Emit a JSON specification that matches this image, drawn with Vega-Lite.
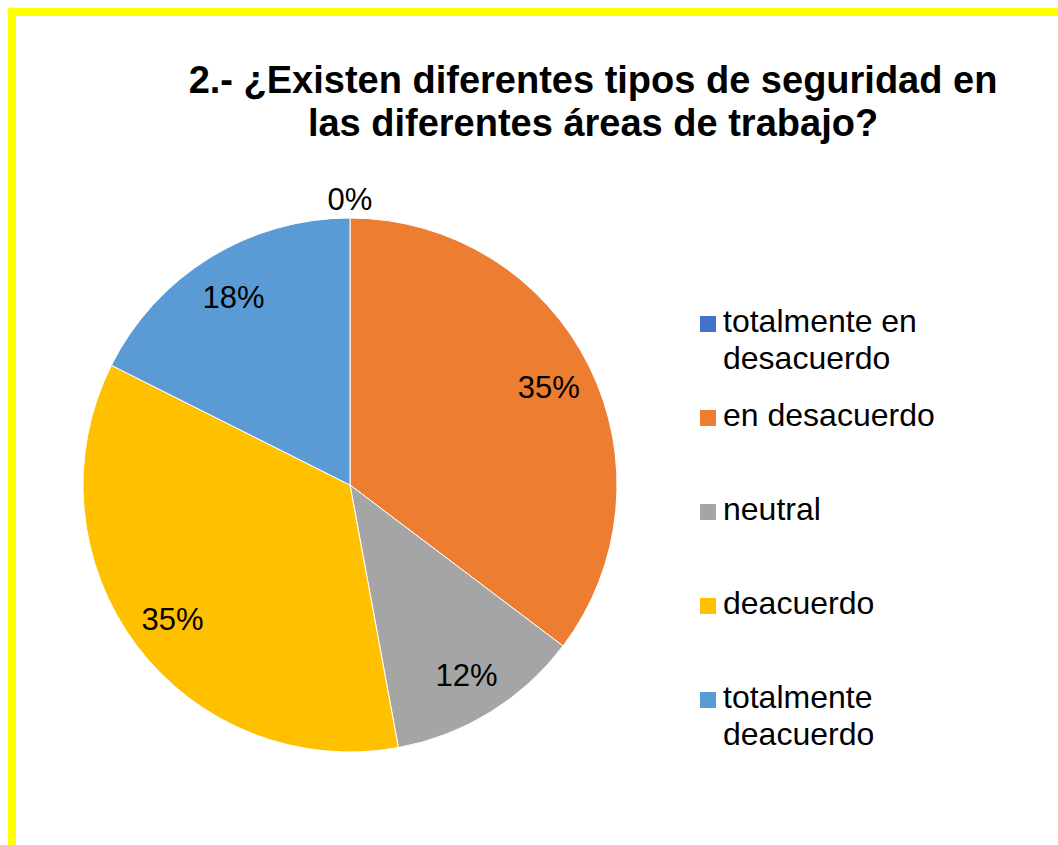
{
  "$schema": "https://vega.github.io/schema/vega-lite/v6.json",
  "width": 1046,
  "height": 833,
  "autosize": {"type": "none"},
  "padding": {"left": 12, "top": 12, "right": 0, "bottom": 0},
  "background": "white",
  "view": {"stroke": "#FFFF00", "strokeWidth": 8, "fill": "white", "strokeDash": [1046, 1879, 833], "strokeCap": "square"},
  "title": {
    "text": ["2.- ¿Existen diferentes tipos de seguridad en", "las diferentes áreas de trabajo?"],
    "font": "Liberation Sans",
    "fontSize": 38,
    "fontWeight": "bold",
    "color": "black",
    "lineHeight": 43,
    "anchor": "middle",
    "frame": "group",
    "baseline": "top",
    "offset": 0,
    "dx": 58,
    "dy": 132
  },
  "data": {
    "values": [
      {"respuesta": "totalmente en desacuerdo", "pct": 0, "orden": 1},
      {"respuesta": "en desacuerdo", "pct": 0.353, "orden": 2},
      {"respuesta": "neutral", "pct": 0.118, "orden": 3},
      {"respuesta": "deacuerdo", "pct": 0.353, "orden": 4},
      {"respuesta": "totalmente deacuerdo", "pct": 0.176, "orden": 5}
    ]
  },
  "encoding": {
    "theta": {"field": "pct", "type": "quantitative", "stack": true},
    "order": {"field": "orden", "type": "quantitative"}
  },
  "layer": [
    {
      "mark": {"type": "arc", "x": 338, "y": 473, "outerRadius": 267, "stroke": "white", "strokeWidth": 1},
      "encoding": {
        "color": {
          "field": "respuesta",
          "type": "nominal",
          "scale": {
            "domain": ["totalmente en desacuerdo", "en desacuerdo", "neutral", "deacuerdo", "totalmente deacuerdo"],
            "range": ["#4472C4", "#ED7D31", "#A5A5A5", "#FFC000", "#5B9BD5"]
          },
          "legend": {
            "orient": "none",
            "legendX": 680,
            "legendY": 275,
            "title": null,
            "padding": 0,
            "symbolType": "M-1,-2H1V0H-1Z",
            "symbolSize": 256,
            "symbolStrokeWidth": 0,
            "symbolOpacity": 1,
            "labelFont": "Liberation Sans",
            "labelFontSize": 32,
            "labelColor": "black",
            "labelBaseline": "alphabetic",
            "labelOffset": -1,
            "labelLimit": 400,
            "clipHeight": 90,
            "rowPadding": 4,
            "labelExpr": "datum.label == 'totalmente en desacuerdo' ? ['totalmente en', 'desacuerdo'] : datum.label == 'totalmente deacuerdo' ? ['totalmente', 'deacuerdo'] : datum.label"
          }
        }
      }
    },
    {
      "mark": {
        "type": "text",
        "x": 338,
        "y": 473,
        "radius": {"expr": "datum.pct == 0 ? 287 : 222"},
        "font": "Liberation Sans",
        "fontSize": 31,
        "align": "center",
        "baseline": "middle",
        "dy": 3
      },
      "encoding": {
        "detail": {"field": "respuesta", "type": "nominal"},
        "text": {"field": "pct", "type": "quantitative", "format": ".0%"},
        "color": {"value": "black"}
      }
    }
  ],
  "config": {
    "style": {"guide-label": {"lineHeight": 37}}
  }
}
